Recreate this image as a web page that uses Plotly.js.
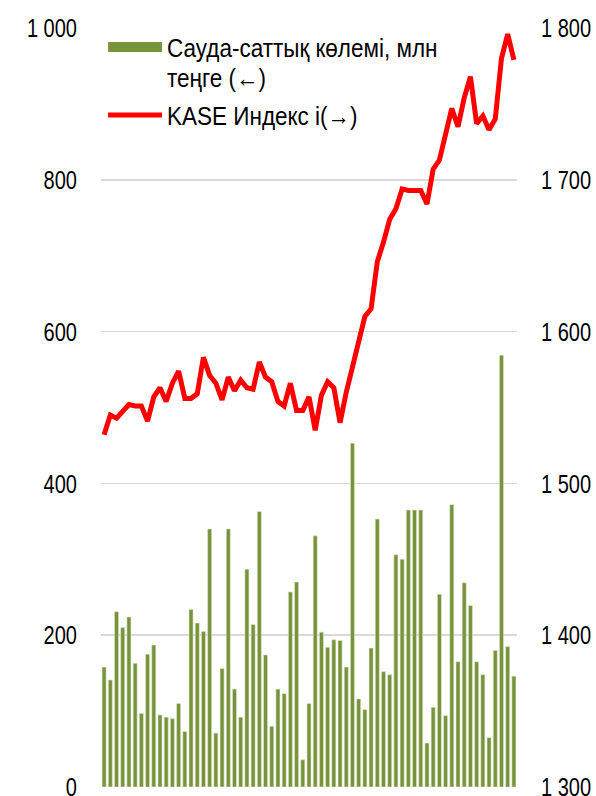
<!DOCTYPE html>
<html>
<head>
<meta charset="utf-8">
<script src="https://cdn.plot.ly/plotly-3.0.1.min.js"></script>
<style>
html,body{margin:0;padding:0;background:#fff;overflow:hidden;}
#chart{width:596px;height:796px;}
</style>
</head>
<body>
<div id="chart"></div>
<script>
// Trading volume, mln tenge (left axis)
const volume = [158,141,231,210,224,163,97,175,187,95,
                92,90,110,73,234,216,205,340,71,156,
                340,129,92,287,214,363,174,80,129,123,
                257,270,36,110,331,204,184,194,193,158,
                453,116,102,183,353,152,148,306,300,365,
                365,365,58,105,254,94,372,165,269,239,
                165,148,65,180,569,185,146];
// KASE index (right axis)
const kase = [1532,1545,1543,1548,1552,1551,1551,1541,1557,1563,
              1554,1566,1574,1556,1556,1559,1583,1571,1566,1555,
              1570,1561,1568,1563,1562,1580,1570,1567,1554,1551,
              1566,1548,1548,1557,1535,1558,1567,1563,1540,1560,
              1577,1591,1610,1615,1646,1659,1674,1681,1694,1693,
              1693,1693,1684,1707,1713,1729,1747,1735,1754,1768,
              1737,1742,1733,1740,1780,1796,1779];
const periods = volume.map((_, i) => i);
const seriesNames = ['Сауда-саттық көлемі, млн<br>теңге (←)', 'KASE Индекс і(→)'];
const leftTickVals = [0,200,400,600,800,1000];
const leftTickText = ['0','200','400','600','800','1 000'];
const rightTickVals = [1300,1400,1500,1600,1700,1800];
const rightTickText = ['1 300','1 400','1 500','1 600','1 700','1 800'];

const FONT = '"Liberation Sans", Arial, sans-serif';
const GREEN = '#77933C';
const RED = '#FF0000';

const traces = [
  { // legend entry for the bars (wide swatch, like the original)
    type: 'scatter', mode: 'lines', x: [null], y: [null], name: seriesNames[0],
    line: {color: GREEN, width: 12}, legendgroup: 'vol', hoverinfo: 'skip', yaxis: 'y'
  },
  {
    type: 'bar', x: periods, y: volume, name: seriesNames[0], showlegend: false,
    legendgroup: 'vol',
    marker: {color: GREEN, line: {color: '#dfe8cf', width: 0.6}},
    yaxis: 'y'
  },
  {
    type: 'scatter', mode: 'lines', x: periods, y: kase, name: seriesNames[1],
    line: {color: RED, width: 5}, legendgroup: 'kase',
    yaxis: 'y2'
  }
];

const tickFont = {family: FONT, size: 26, color: '#000'};

const layout = {
  width: 596, height: 796,
  margin: {l: 101, r: 79, t: 28, b: 9, pad: 0},
  paper_bgcolor: '#fff', plot_bgcolor: '#fff',
  font: {family: FONT, size: 24, color: '#000'},
  bargap: 0.35,
  showlegend: true,
  legend: {
    x: 0.005, y: 1.005, xanchor: 'left', yanchor: 'top', valign: 'top',
    bgcolor: 'rgba(0,0,0,0)', font: {family: FONT, size: 25, color: '#000'},
    itemwidth: 54, tracegroupgap: 0, traceorder: 'normal'
  },
  xaxis: {
    range: [-0.5, 66.5], showticklabels: false, ticks: '', showgrid: false,
    zeroline: false, showline: false, fixedrange: true
  },
  yaxis: {
    range: [0, 1000], tickvals: leftTickVals, ticktext: leftTickText,
    showgrid: true, gridcolor: '#d9d9d9', gridwidth: 1.5, zeroline: false,
    showline: false, ticks: '', ticklabelstandoff: 23, ticklabeloverflow: 'allow',
    tickfont: tickFont
  },
  yaxis2: {
    range: [1300, 1800], overlaying: 'y', side: 'right',
    tickvals: rightTickVals, ticktext: rightTickText,
    showgrid: false, zeroline: false, showline: false, ticks: '',
    ticklabelstandoff: 23, ticklabeloverflow: 'allow',
    tickfont: tickFont
  }
};

// horizontally condense a text element about its own x anchor (narrow face look)
function condense(t, s) {
  const x = parseFloat(t.getAttribute('x')) || 0;
  const prev = t.getAttribute('transform') || '';
  t.setAttribute('transform',
    prev + ' translate(' + x + ',0) scale(' + s + ',1) translate(' + (-x) + ',0)');
}

Plotly.newPlot('chart', traces, layout, {staticPlot: true, displayModeBar: false}).then(gd => {
  gd.querySelectorAll('.ytick text, .y2tick text').forEach(t => condense(t, 0.77));
  gd.querySelectorAll('.legend text.legendtext').forEach(t => {
    t.querySelectorAll('tspan.line').forEach((sp, k) => {
      if (k > 0) sp.setAttribute('dy', '1.2em');
    });
    condense(t, 0.9);
  });
});
</script>
</body>
</html>
